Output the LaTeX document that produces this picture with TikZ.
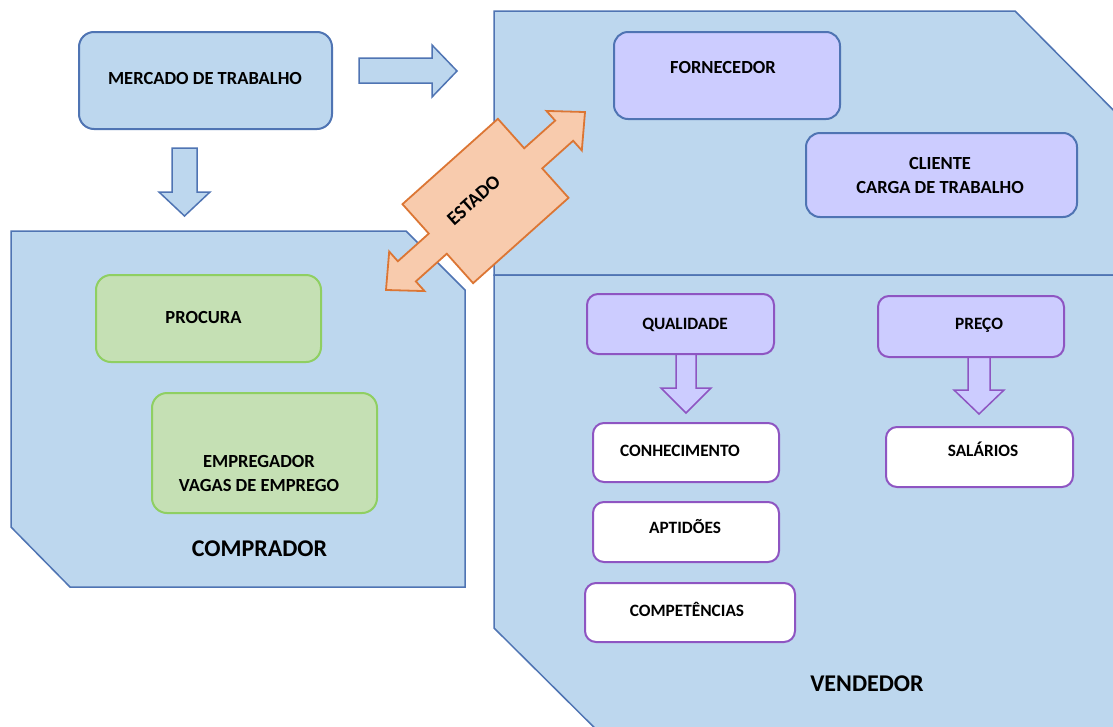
\documentclass[tikz,border=0pt]{standalone}
\usepackage{fontspec}
\setmainfont{Carlito}
\definecolor{bfill}{HTML}{BDD7EE}
\definecolor{bline}{HTML}{4F74B3}
\definecolor{gfill}{HTML}{C5E0B4}
\definecolor{gline}{HTML}{8FCF62}
\definecolor{lav}{HTML}{CCCCFF}
\definecolor{pline}{HTML}{8E55C2}
\definecolor{ofill}{HTML}{F8CBAD}
\definecolor{oline}{HTML}{DC7634}
\tikzset{
  panel/.style={fill=bfill, draw=bline, line width=1.5pt, line join=miter},
  boxbase/.style={rectangle, inner sep=0pt, line width=2pt},
  bluebox/.style={boxbase, fill=bfill, draw=bline, rounded corners=15pt},
  greenbox/.style={boxbase, fill=gfill, draw=gline, rounded corners=15pt},
  lavbox/.style={boxbase, fill=lav, draw=bline, rounded corners=14pt},
  purbox/.style={boxbase, fill=lav, draw=pline, rounded corners=11pt},
  whitebox/.style={boxbase, fill=white, draw=pline, rounded corners=11pt},
  txt/.style={font=\fontsize{18.5}{21}\selectfont\bfseries, anchor=base, inner sep=0pt},
  stxt/.style={font=\fontsize{17.3}{20}\selectfont\bfseries, anchor=base, inner sep=0pt},
  bigtxt/.style={font=\fontsize{24}{28}\selectfont\bfseries, anchor=base, inner sep=0pt},
  barrow/.style={fill=bfill, draw=bline, line width=1.5pt, line join=miter},
  parrow/.style={fill=lav, draw=pline, line width=1.5pt, line join=miter},
  oarrow/.style={fill=ofill, draw=oline, line width=1.8pt, line join=miter},
}
\begin{document}
\begin{tikzpicture}[x=1pt,y=-1pt]
\useasboundingbox (0,0) rectangle (1113,726);
\fill[white] (0,0) rectangle (1113,726);

% panels
\begin{scope}
\clip (0,0) rectangle (1113,726);
\draw[panel] (11,231) -- (406,231) -- (465,290) -- (465,587) -- (70,587) -- (11,527) -- cycle;
\draw[panel] (494,11) -- (1015,11) -- (1140,137) -- (1140,275) -- (494,275) -- cycle;
\draw[panel] (494,275) -- (1140,275) -- (1140,760) -- (627,760) -- (494,628) -- cycle;
\end{scope}

% blue block arrows
\draw[barrow] (359,58) -- (432,58) -- (432,45) -- (457,71) -- (432,97) -- (432,83) -- (359,83) -- cycle;
\draw[barrow] (172,148) -- (197,148) -- (197,192) -- (210,192) -- (184.5,216) -- (159,192) -- (172,192) -- cycle;

% purple block arrows
\draw[parrow] (676,352) -- (696,352) -- (696,388) -- (711,388) -- (686,413) -- (661,388) -- (676,388) -- cycle;
\draw[parrow] (968,355) -- (990,355) -- (990,390) -- (1004,390) -- (979,414) -- (954,390) -- (968,390) -- cycle;

% ESTADO double arrow
\begin{scope}[shift={(485.5,201)}, rotate=41.8]
\draw[oarrow] (-64,-53) -- (64,-53) -- (64,-13.5) -- (105.5,-13.5) -- (105.5,-26.5) -- (133.5,0)
  -- (105.5,26.5) -- (105.5,13.5) -- (64,13.5) -- (64,53) -- (-64,53) -- (-64,13.5)
  -- (-105.5,13.5) -- (-105.5,26.5) -- (-133.5,0) -- (-105.5,-26.5) -- (-105.5,-13.5)
  -- (-64,-13.5) -- cycle;
\node[font=\fontsize{19.5}{22}\selectfont\bfseries, rotate=41.8, inner sep=0pt] (estado) at (-8.3,-8.4) {ESTADO};
\end{scope}

% boxes
\node[bluebox, minimum width=253pt, minimum height=97pt] (mercado) at (205.5,80.5) {};
\node[txt] (mercadot) at (205,84) {MERCADO DE TRABALHO};

\node[lavbox, minimum width=226pt, minimum height=87pt] (fornecedor) at (727,75.5) {};
\node[txt] (fornecedort) at (723,73) {FORNECEDOR};

\node[lavbox, minimum width=271pt, minimum height=84pt] (cliente) at (941.5,175) {};
\node[txt] (clientet) at (940,169) {CLIENTE};
\node[txt] (cargat) at (940,193) {CARGA DE TRABALHO};

\node[greenbox, minimum width=225pt, minimum height=87pt] (procura) at (208.5,318.5) {};
\node[txt] (procurat) at (203.5,323) {PROCURA};

\node[greenbox, minimum width=225pt, minimum height=120pt] (empregador) at (264.5,453) {};
\node[txt] (empregadort) at (259,467) {EMPREGADOR};
\node[txt] (vagast) at (259,491) {VAGAS DE EMPREGO};

\node[bigtxt] (comprador) at (259.5,556) {COMPRADOR};

\node[purbox, minimum width=187pt, minimum height=60pt] (qualidade) at (680.5,324) {};
\node[stxt] (qualidadet) at (685,329.5) {QUALIDADE};

\node[purbox, minimum width=186pt, minimum height=61pt] (preco) at (971,326.5) {};
\node[stxt] (precot) at (979,329.5) {PREÇO};

\node[whitebox, minimum width=186pt, minimum height=59pt] (conhecimento) at (686,452.5) {};
\node[stxt] (conhecimentot) at (680,456.5) {CONHECIMENTO};

\node[whitebox, minimum width=187pt, minimum height=60pt] (salarios) at (979.5,457) {};
\node[stxt] (salariost) at (983,456.5) {SALÁRIOS};

\node[whitebox, minimum width=186pt, minimum height=60pt] (aptidoes) at (686,532) {};
\node[stxt] (aptidoest) at (685,533.5) {APTIDÕES};

\node[whitebox, minimum width=210pt, minimum height=59pt] (competencias) at (690,612.5) {};
\node[stxt] (competenciast) at (687,616.5) {COMPETÊNCIAS};

\node[bigtxt] (vendedor) at (867,691) {VENDEDOR};
\end{tikzpicture}
\end{document}
